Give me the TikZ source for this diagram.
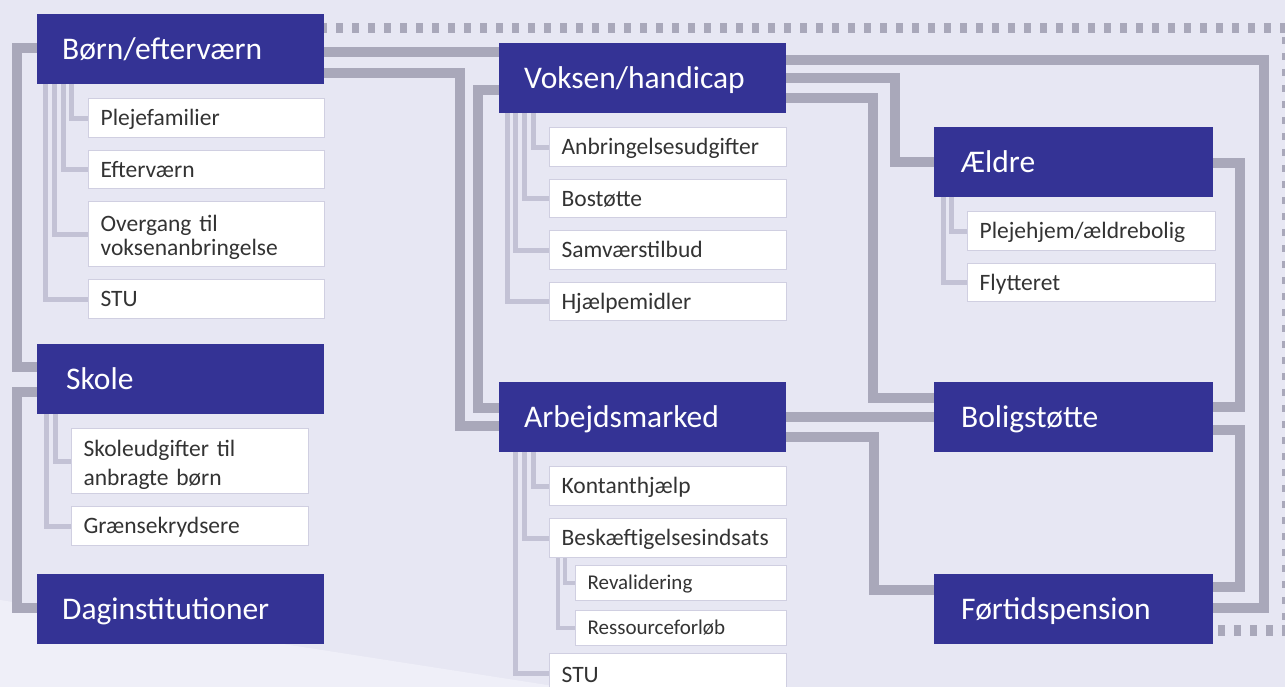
\documentclass[tikz,border=0pt]{standalone}
\usepackage{fontspec}
\setmainfont{Carlito}
\usetikzlibrary{calc}
\definecolor{bgc}{HTML}{E7E7F3}
\definecolor{bgl}{HTML}{EFEFF8}
\definecolor{navy}{HTML}{343395}
\definecolor{lineg}{HTML}{A9A8BA}
\definecolor{subg}{HTML}{C3C2D5}
\definecolor{boxb}{HTML}{D0CFE1}
\definecolor{txt}{HTML}{333333}
\pgfdeclarelayer{bg}
\pgfdeclarelayer{lines}
\pgfsetlayers{bg,lines,main}
\tikzset{
  mainL/.style={fill=navy, text=white, anchor=north west, minimum width=287pt, minimum height=70pt,
    inner xsep=25pt, inner ysep=0pt, text width=237pt, align=left,
    font=\fontsize{31.5}{37}\selectfont, text height=20.3pt, text depth=0pt},
  mainR/.style={mainL, minimum width=279pt, inner xsep=27pt, text width=225pt},
  subbox/.style={fill=white, draw=boxb, line width=1.2pt, anchor=north west, minimum height=39pt,
    inner xsep=12pt, inner ysep=0pt, align=left, text=txt, font=\fontsize{23.5}{23.6}\selectfont},
  oneline/.style={text height=15.2pt, text depth=0pt},
  subA/.style={subbox, minimum width=236pt, text width=212pt},
  subB/.style={subbox, minimum width=237pt, text width=213pt},
  subC/.style={subbox, minimum width=211pt, minimum height=35pt, text width=187pt,
    font=\fontsize{21}{24}\selectfont, text height=13.5pt, text depth=0pt},
  subD/.style={subbox, minimum width=248pt, text width=224pt},
  mainline/.style={draw=lineg, line width=10pt},
  subline/.style={draw=subg, line width=5pt},
  subsubline/.style={draw=subg, line width=4pt},
  frameline/.style={draw=lineg, line width=10.5pt, dash pattern=on 7pt off 9pt}
}
\begin{document}
\begin{tikzpicture}[x=1pt,y=-1pt]
\useasboundingbox (0,0) rectangle (1285,687);
\begin{pgfonlayer}{bg}
  \fill[bgc] (0,0) rectangle (1285,687);
  \fill[bgl] (0,600) -- (560,687) -- (0,687) -- cycle;
  \draw[frameline] (320,28) -- (1287,28) -- (1287,630.5) -- (1213,630.5);
\end{pgfonlayer}

% main nodes
\node[mainL] (born) at (37,14) {Børn/efterværn};
\node[mainL, inner xsep=29pt, text width=229pt] (skole) at (37,344) {Skole};
\node[mainL] (dag) at (37,574) {Daginstitutioner};
\node[mainL] (voksen) at (499,43) {Voksen/handicap};
\node[mainL] (arb) at (499,382) {Arbejdsmarked};
\node[mainR] (aeldre) at (934,127) {Ældre};
\node[mainR] (bolig) at (934,382) {Boligstøtte};
\node[mainR] (fort) at (934,574) {Førtidspension};

% sub items
\node[subA,oneline] (plejefam) at (88,98) {Plejefamilier};
\node[subA,oneline,minimum height=38pt] (efterv) at (88,150) {Efterværn};
\node[subA,minimum height=65pt] (overgang) at (88,201) {\rule{0pt}{22.6pt}Overgang til\\voksenanbringelse};
\node[subA,oneline] (stua) at (88,279) {STU};

\node[subB,minimum height=65pt,font=\fontsize{23.5}{29}\selectfont] (skoleudg) at (71,428) {\rule{0pt}{23pt}Skoleudgifter til\\anbragte børn};
\node[subB,oneline] (graense) at (71,506) {Grænsekrydsere};

\node[subB,oneline] (anbr) at (549,127) {Anbringelsesudgifter};
\node[subB,oneline,minimum height=38pt] (bostotte) at (549,179) {Bostøtte};
\node[subB,oneline] (samvaer) at (549,230) {Samværstilbud};
\node[subB,oneline,minimum height=38pt] (hjaelpe) at (549,282) {Hjælpemidler};

\node[subB,oneline] (kontant) at (549,466) {Kontanthjælp};
\node[subB,oneline] (beskaeft) at (549,518) {Beskæftigelsesindsats};
\node[subC] (reval) at (575,565) {Revalidering};
\node[subC] (ressource) at (575,610) {Ressourceforløb};
\node[subB,oneline,text height=18pt] (stub) at (549,653) {STU};

\node[subD,oneline] (plejehjem) at (967,211) {Plejehjem/ældrebolig};
\node[subD,oneline,minimum height=38pt] (flytteret) at (967,263) {Flytteret};

\begin{pgfonlayer}{lines}
  % main connectors
  \draw[mainline] ($(born.north west)+(0,34)$) -- ++(-20,0) |- ($(skole.north west)+(0,23)$);
  \draw[mainline] ($(skole.north west)+(0,48)$) -- ++(-20,0) |- ($(dag.north west)+(0,34)$);
  \draw[mainline] ($(born.north east)+(0,38.5)$) -- ($(voksen.north west)+(0,9.5)$);
  \draw[mainline] ($(born.north east)+(0,59)$) -| ($(arb.north west)+(-39,44)$) -- ($(arb.north west)+(0,44)$);
  \draw[mainline] ($(voksen.north west)+(0,47)$) -| ($(arb.north west)+(-21,26)$) -- ($(arb.north west)+(0,26)$);
  \draw[mainline] ($(voksen.north east)+(0,17)$) -| ($(fort.north east)+(51,34)$) -- ($(fort.north east)+(0,34)$);
  \draw[mainline] ($(voksen.north east)+(0,35)$) -| ($(aeldre.north west)+(-39,35)$) -- ($(aeldre.north west)+(0,35)$);
  \draw[mainline] ($(voksen.north east)+(0,55)$) -| ($(bolig.north west)+(-61,16)$) -- ($(bolig.north west)+(0,16)$);
  \draw[mainline] ($(arb.north east)+(0,35)$) -- ($(bolig.north west)+(0,35)$);
  \draw[mainline] ($(arb.north east)+(0,55)$) -| ($(fort.north west)+(-60,16)$) -- ($(fort.north west)+(0,16)$);
  \draw[mainline] ($(aeldre.north east)+(0,36)$) -| ($(bolig.north east)+(27,25)$) -- ($(bolig.north east)+(0,25)$);
  \draw[mainline] ($(bolig.north east)+(0,48)$) -| ($(fort.north east)+(27,13)$) -- ($(fort.north east)+(0,13)$);
  % sub connectors
  \draw[subline] ($(born.south west)+(34.5,0)$) |- (plejefam.west);
  \draw[subline] ($(born.south west)+(26,0)$) |- (efterv.west);
  \draw[subline] ($(born.south west)+(17.5,0)$) |- (overgang.west);
  \draw[subline] ($(born.south west)+(8.5,0)$) |- (stua.west);
  \draw[subline] ($(skole.south west)+(18.5,0)$) |- (skoleudg.west);
  \draw[subline] ($(skole.south west)+(9.5,0)$) |- (graense.west);
  \draw[subline] ($(voksen.south west)+(34.5,0)$) |- (anbr.west);
  \draw[subline] ($(voksen.south west)+(25.5,0)$) |- (bostotte.west);
  \draw[subline] ($(voksen.south west)+(16.5,0)$) |- (samvaer.west);
  \draw[subline] ($(voksen.south west)+(8.5,0)$) |- (hjaelpe.west);
  \draw[subline] ($(arb.south west)+(34.5,0)$) |- (kontant.west);
  \draw[subline] ($(arb.south west)+(25.5,0)$) |- (beskaeft.west);
  \draw[subline] ($(arb.south west)+(16.5,0)$) |- (stub.west);
  \draw[subsubline] ($(beskaeft.south west)+(16,0)$) |- (reval.west);
  \draw[subsubline] ($(beskaeft.south west)+(9,0)$) |- (ressource.west);
  \draw[subline] ($(aeldre.south west)+(17.5,0)$) |- (plejehjem.west);
  \draw[subline] ($(aeldre.south west)+(9.5,0)$) |- (flytteret.west);
\end{pgfonlayer}
\end{tikzpicture}
\end{document}
